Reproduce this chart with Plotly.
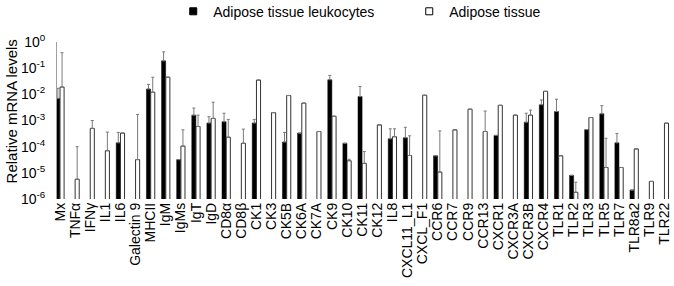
import plotly.graph_objects as go

categories = ["Mx", "TNFα", "IFNγ", "IL1", "IL6", "Galectin 9", "MHCII", "IgM", "IgMs", "IgT",
              "IgD", "CD8α", "CD8β", "CK1", "CK3", "CK5B", "CK6A", "CK7A", "CK9", "CK10",
              "CK11", "CK12", "IL8", "CXCL11_L1", "CXCL_F1", "CCR6", "CCR7", "CCR9", "CCR13", "CXCR1",
              "CXCR3A", "CXCR3B", "CXCR4", "TLR1", "TLR2", "TLR3", "TLR5", "TLR7", "TLR8a2", "TLR9",
              "TLR22"]

# Adipose tissue leukocytes (mean, upper error limit)
leuk_mean = [7e-3, None, None, None, 1.4e-4, None, 1.6e-2, 0.19, 3.2e-5, 1.6e-3,
             8e-4, 9e-4, None, 8e-4, None, 1.5e-4, 3.3e-4, None, 3.6e-2, 1.35e-4,
             8.2e-3, None, 2e-4, 2.2e-4, None, 4.5e-5, None, None, None, 2.7e-4,
             None, 8.6e-4, 4e-3, 2.2e-3, 8e-6, 4.5e-4, 1.8e-3, 1.4e-4, 2.2e-6, None,
             None]
leuk_upper = [1.7e-2, None, None, None, 3.5e-4, None, 2.4e-2, 0.42, None, 3e-3,
              1.4e-3, 1.9e-3, None, 1.1e-3, None, 3.5e-4, None, None, 5.3e-2, None,
              2e-2, None, 4.8e-4, 5.5e-4, None, None, None, None, None, None,
              None, 1.9e-3, 6.1e-3, 6.5e-3, None, None, 3.7e-3, 3.2e-4, None, None,
              None]

# Adipose tissue (mean, upper error limit)
tissue_mean = [1.9e-2, 5.7e-6, 5e-4, 7e-5, 3.3e-4, 3.2e-5, 1.2e-2, 4.5e-2, 1.05e-4, 5.9e-4,
               1.2e-3, 2.3e-4, 1.35e-4, 3.5e-2, 2e-3, 9e-3, 4.6e-3, 3.8e-4, 1.45e-3, 2.9e-5,
               2.3e-5, 6.8e-4, 2.4e-4, 4.6e-5, 9.2e-3, 1.07e-5, 4.4e-4, 2.7e-3, 3.8e-4, 3.8e-3,
               1.6e-3, 1.6e-3, 1.3e-2, 4.5e-5, 1.8e-6, 1.3e-3, 1.6e-5, 1.6e-5, 8.2e-5, 4.7e-6,
               7.9e-4]
tissue_upper = [0.39, 1e-4, 1e-3, 3.6e-4, None, 1.7e-3, 4.5e-2, None, 4.4e-4, 1.6e-3,
                5e-3, 1.1e-3, 4.7e-4, None, None, None, None, None, None, 3.3e-5,
                6.5e-5, None, 4.8e-4, 2.6e-4, None, 4e-4, None, None, 2.3e-3, None,
                None, 2.5e-3, None, None, 4.4e-6, None, 2.1e-4, None, None, None,
                None]

yticks = [1e-6, 1e-5, 1e-4, 1e-3, 1e-2, 1e-1, 1]
yticktext = ["10<sup>-6</sup>", "10<sup>-5</sup>", "10<sup>-4</sup>", "10<sup>-3</sup>",
             "10<sup>-2</sup>", "10<sup>-1</sup>", "10<sup>0</sup>"]


def err_plus(means, uppers):
    out = []
    for m, u in zip(means, uppers):
        if m is None or u is None:
            out.append(0)
        else:
            out.append(u - m)
    return out


FONT = "Liberation Sans, Arial, sans-serif"
ERR_COLOR = "#7a7a7a"
xpos = list(range(len(categories)))

fig = go.Figure()
fig.add_trace(go.Bar(
    x=xpos, y=leuk_mean, name="Adipose tissue leukocytes",
    marker=dict(color="black", line=dict(color="black", width=0.5)),
    width=0.27, offset=-0.28, showlegend=False,
    error_y=dict(type="data", symmetric=False, array=err_plus(leuk_mean, leuk_upper),
                 arrayminus=[0] * len(categories), color=ERR_COLOR, thickness=1, width=1.5),
))
fig.add_trace(go.Bar(
    x=xpos, y=tissue_mean, name="Adipose tissue",
    marker=dict(color="white", line=dict(color="#333333", width=1)),
    width=0.27, offset=0.0, showlegend=False,
    error_y=dict(type="data", symmetric=False, array=err_plus(tissue_mean, tissue_upper),
                 arrayminus=[0] * len(categories), color=ERR_COLOR, thickness=1, width=1.5),
))
# legend entries
fig.add_trace(go.Scatter(x=[None], y=[None], mode="markers", name="Adipose tissue leukocytes",
                         marker=dict(symbol="square", size=7, color="black",
                                     line=dict(color="black", width=1))))
fig.add_trace(go.Scatter(x=[None], y=[None], mode="markers", name="Adipose tissue",
                         marker=dict(symbol="square", size=7, color="white",
                                     line=dict(color="black", width=1))))

fig.update_layout(
    width=674, height=286,
    margin=dict(l=57, r=2, t=42, b=87, autoexpand=False),
    paper_bgcolor="white", plot_bgcolor="white",
    barmode="overlay",
    font=dict(family=FONT, size=14, color="black"),
    showlegend=True,
    legend=dict(orientation="h", x=0.189, xanchor="left", y=1.295, yanchor="top",
                font=dict(size=14), itemwidth=30, tracegroupgap=0,
                entrywidth=191, entrywidthmode="pixels",
                bgcolor="rgba(0,0,0,0)"),
    xaxis=dict(range=[-0.2, 40.5], tickmode="array", tickvals=xpos, ticktext=categories,
               tickangle=-90, tickfont=dict(size=14), showgrid=False, showline=False,
               ticks="", zeroline=False),
    yaxis=dict(type="log", range=[-6, 0], tickvals=yticks, ticktext=yticktext,
               tickfont=dict(size=14), showgrid=False, zeroline=False,
               showline=True, linecolor="#a0a0a0", linewidth=1, ticks="",
               ticklabelstandoff=8),
    annotations=[dict(text="Relative mRNA levels", textangle=-90, xref="paper", yref="paper",
                      x=-0.0748, y=0.558, xanchor="center", yanchor="middle",
                      showarrow=False, font=dict(size=15))],
)

fig.write_html("out.html", config={"displayModeBar": False},
               post_script="document.body.style.margin='0';document.body.style.padding='0';")
